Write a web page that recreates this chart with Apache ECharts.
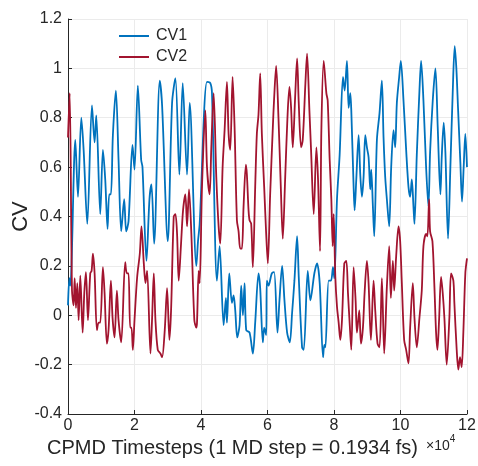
<!DOCTYPE html>
<html>
<head>
<meta charset="utf-8">
<script src="https://cdn.jsdelivr.net/npm/echarts@6/dist/echarts.min.js"></script>
<style>html,body{margin:0;padding:0;background:#fff}#c{width:478px;height:466px}</style>
</head>
<body>
<div id="c"></div>
<script>
const xTicks = [0, 2, 4, 6, 8, 10, 12];
const yTicks = [-0.4, -0.2, 0, 0.2, 0.4, 0.6, 0.8, 1, 1.2];
const seriesNames = ['CV1', 'CV2'];

// x in units of 1e4 timesteps
const cv1T = [0,0.04,0.07,0.22,0.30,0.40,0.47,0.58,0.72,0.80,0.85,0.97,1.05,1.12,1.19,1.24,1.29,1.35,1.44,1.52,1.60,1.69,1.75,1.82,1.94,2.00,2.10,2.20,2.24,2.36,2.45,2.51,2.59,2.76,2.83,3.00,3.13,3.23,3.35,3.45,3.58,3.66,3.86,3.91,3.96,4.18,4.28,4.33,4.48,4.56,4.68,4.75,4.78,4.85,4.93,4.98,5.03,5.09,5.16,5.21,5.26,5.31,5.36,5.46,5.56,5.63,5.73,5.78,5.86,5.90,5.96,5.98,6.03,6.13,6.20,6.30,6.36,6.44,6.51,6.59,6.67,6.74,6.81,6.89,6.94,7.04,7.09,7.21,7.29,7.41,7.49,7.57,7.67,7.71,7.74,7.84,7.91,7.97,8.01,8.09,8.17,8.27,8.32,8.39,8.44,8.49,8.52,8.59,8.62,8.67,8.74,8.79,8.84,8.89,8.94,8.99,9.04,9.09,9.12,9.17,9.21,9.29,9.37,9.44,9.49,9.54,9.59,9.66,9.72,9.79,9.84,9.89,9.96,10.01,10.09,10.17,10.24,10.29,10.34,10.39,10.42,10.49,10.57,10.62,10.69,10.77,10.84,10.89,10.97,11.05,11.12,11.20,11.24,11.30,11.35,11.43,11.50,11.57,11.63,11.68,11.73,11.80,11.85,11.90,11.95,12.0];
const cv1V = [0.04,0.15,0.12,0.71,0.48,0.80,0.67,0.37,0.85,0.70,0.81,0.41,0.67,0.55,0.35,0.49,0.49,0.73,0.91,0.63,0.34,0.47,0.34,0.38,0.69,0.59,0.93,0.63,0.60,0.22,0.47,0.53,0.29,0.95,0.85,0.30,0.86,0.96,0.57,0.94,0.57,0.86,0.20,0.30,0.37,0.945,0.94,0.90,0.14,0.28,-0.04,0.07,-0.03,0.17,0.05,0.08,0.02,-0.09,-0.04,0.12,0.0,0.13,-0.06,-0.07,-0.155,-0.03,0.17,0.11,-0.11,-0.05,-0.08,0.14,0.12,0.17,0.175,-0.07,0.06,0.20,0.06,-0.07,-0.11,0.01,0.14,0.32,0.155,-0.13,-0.14,0.18,0.06,0.17,0.21,0.13,-0.17,-0.12,-0.13,0.14,0.14,0.195,0.15,0.47,0.65,0.965,0.91,1.03,0.84,0.90,0.83,0.52,0.425,0.55,0.73,0.57,0.48,0.56,0.73,0.68,0.64,0.51,0.59,0.44,0.32,0.71,0.82,0.95,0.72,0.56,0.47,0.36,0.60,0.75,0.68,0.86,0.965,1.03,0.87,0.67,0.52,0.48,0.55,0.44,0.37,0.65,0.91,1.03,0.87,0.60,0.44,0.66,0.87,1.0,0.76,0.49,0.64,0.78,0.66,0.31,0.60,0.90,1.09,1.0,0.84,0.62,0.46,0.60,0.735,0.60];

const cv2T = [0,0.05,0.12,0.17,0.20,0.24,0.28,0.32,0.37,0.44,0.49,0.54,0.60,0.67,0.71,0.75,0.80,0.87,0.92,0.97,1.05,1.10,1.17,1.22,1.29,1.34,1.40,1.47,1.52,1.60,1.72,1.77,1.82,1.87,1.91,1.95,2.00,2.08,2.16,2.21,2.28,2.33,2.38,2.48,2.53,2.58,2.63,2.70,2.78,2.83,2.91,2.98,3.05,3.10,3.18,3.23,3.28,3.33,3.40,3.46,3.53,3.58,3.64,3.71,3.80,3.86,3.88,3.93,3.96,4.03,4.13,4.18,4.26,4.31,4.38,4.46,4.53,4.58,4.65,4.71,4.78,4.83,4.88,4.95,5.01,5.08,5.13,5.18,5.23,5.28,5.35,5.38,5.43,5.46,5.51,5.56,5.63,5.68,5.73,5.78,5.83,5.90,5.96,6.01,6.08,6.16,6.20,6.26,6.33,6.40,6.46,6.53,6.60,6.66,6.71,6.76,6.83,6.89,6.94,7.01,7.06,7.14,7.19,7.26,7.31,7.39,7.47,7.52,7.58,7.62,7.69,7.77,7.81,7.87,7.92,7.96,7.99,8.04,8.09,8.14,8.19,8.24,8.31,8.37,8.42,8.47,8.52,8.59,8.65,8.69,8.76,8.81,8.87,8.92,8.99,9.04,9.11,9.19,9.24,9.31,9.37,9.44,9.51,9.59,9.66,9.71,9.77,9.81,9.87,9.94,9.99,10.04,10.11,10.17,10.24,10.29,10.37,10.42,10.49,10.57,10.64,10.69,10.77,10.81,10.86,10.89,10.96,11.02,11.07,11.11,11.16,11.22,11.27,11.32,11.39,11.47,11.52,11.59,11.62,11.69,11.74,11.79,11.84,11.89,11.95,12.0];
const cv2V = [0.72,0.90,0.10,0.04,0.15,0.03,0.13,-0.02,0.16,-0.07,0.09,0.175,-0.02,0.17,0.18,0.25,0.17,-0.06,-0.03,-0.03,0.195,0.09,-0.115,-0.06,0.14,-0.01,-0.09,0.10,-0.02,-0.11,0.215,0.17,0.17,-0.05,-0.05,-0.14,-0.02,0.155,0.25,0.36,0.21,0.13,0.18,-0.155,-0.01,0.17,-0.02,-0.14,-0.155,-0.17,-0.06,0.11,-0.10,0.02,0.40,0.41,0.33,0.14,0.29,0.425,0.49,0.36,0.51,0.33,-0.02,-0.05,-0.03,0.18,0.13,0.52,0.83,0.60,0.49,0.68,0.90,0.56,0.36,0.29,0.60,0.75,0.945,0.735,0.67,0.965,0.76,0.385,0.34,0.27,0.27,0.44,0.61,0.57,0.425,0.385,0.37,0.195,0.52,0.735,0.815,0.98,0.735,0.52,0.33,0.21,0.49,0.76,0.88,1.01,0.80,0.52,0.31,0.55,0.80,0.925,0.84,0.68,0.88,1.04,0.86,0.68,0.71,0.94,1.06,0.83,0.67,0.41,0.68,0.55,0.26,0.75,1.03,0.90,0.87,0.63,0.47,0.28,0.41,0.155,0.035,-0.03,-0.10,-0.02,0.21,0.22,0.09,-0.03,-0.14,0.195,0.06,-0.07,0.02,-0.115,-0.05,0.09,0.22,0.13,-0.10,0.14,0.02,-0.115,-0.13,0.15,-0.155,0.115,0.28,0.07,0.22,0.10,0.24,0.36,0.30,0.13,-0.10,-0.14,-0.195,-0.05,0.13,-0.01,-0.13,-0.01,0.10,0.28,0.33,0.32,0.47,0.34,0.30,0.115,-0.07,-0.14,-0.02,0.155,0.09,-0.01,-0.20,-0.01,0.17,0.14,0.05,-0.14,-0.22,-0.17,-0.21,-0.07,0.17,0.23];

const cv1 = cv1T.map((t, i) => [t, cv1V[i]]);
const cv2 = cv2T.map((t, i) => [t, cv2V[i]]);

const chart = echarts.init(document.getElementById('c'), null, {renderer: 'canvas'});
const font = 'Arial, "Liberation Sans", Helvetica, sans-serif';
chart.setOption({
  animation: false,
  textStyle: {fontFamily: font},
  grid: {left: 68, right: 11, top: 19, bottom: 52, containLabel: false, outerBoundsMode: 'none'},
  legend: {
    orient: 'vertical', left: 114, top: 23, itemGap: 5,
    itemWidth: 30, itemHeight: 12,
    textStyle: {fontSize: 16, color: '#262626', fontFamily: font, padding: [0, 0, 0, 2]},
    icon: 'path://M0,5 L30,5 L30,7 L0,7 Z',
    data: seriesNames
  },
  xAxis: {
    type: 'value', min: xTicks[0], max: xTicks[xTicks.length - 1], interval: 2,
    name: 'CPMD Timesteps (1 MD step = 0.1934 fs)', nameLocation: 'middle', nameGap: 24,
    nameMoveOverlap: false,
    nameTextStyle: {fontSize: 20, color: '#262626', padding: [0, 70, 0, 0]},
    axisLine: {show: true, onZero: false, lineStyle: {color: '#262626', width: 1}},
    axisTick: {show: true, inside: true, length: 4, lineStyle: {color: '#262626'}},
    axisLabel: {fontSize: 16, color: '#262626', margin: 4},
    splitLine: {show: true, lineStyle: {color: '#ebebeb', width: 1}}
  },
  yAxis: {
    type: 'value', min: -0.4, max: 1.2, interval: 0.2,
    name: 'CV', nameLocation: 'middle', nameGap: 36, nameRotate: 90,
    nameMoveOverlap: false,
    nameTextStyle: {fontSize: 22, color: '#262626'},
    axisLine: {show: true, onZero: false, lineStyle: {color: '#262626', width: 1}},
    axisTick: {show: true, inside: true, length: 4, lineStyle: {color: '#262626'}},
    axisLabel: {fontSize: 16, color: '#262626', margin: 6,
      formatter: v => String(Math.round(v * 10) / 10)},
    splitLine: {show: true, lineStyle: {color: '#ebebeb', width: 1}}
  },
  graphic: [{
    type: 'text', left: 426, top: 434,
    style: {
      text: '{a|×10}{b|4}',
      rich: {
        a: {fontSize: 14, fill: '#262626', fontFamily: font, verticalAlign: 'bottom'},
        b: {fontSize: 10, fill: '#262626', fontFamily: font, verticalAlign: 'top', padding: [0, 0, 9, 0]}
      }
    }
  }],
  series: [
    {name: seriesNames[0], type: 'line', data: cv1, showSymbol: false, smooth: 0.3,
     lineStyle: {color: '#0072BD', width: 1.8}, itemStyle: {color: '#0072BD'}},
    {name: seriesNames[1], type: 'line', data: cv2, showSymbol: false, smooth: 0.3,
     lineStyle: {color: '#A2142F', width: 1.8}, itemStyle: {color: '#A2142F'}}
  ]
});
</script>
</body>
</html>
